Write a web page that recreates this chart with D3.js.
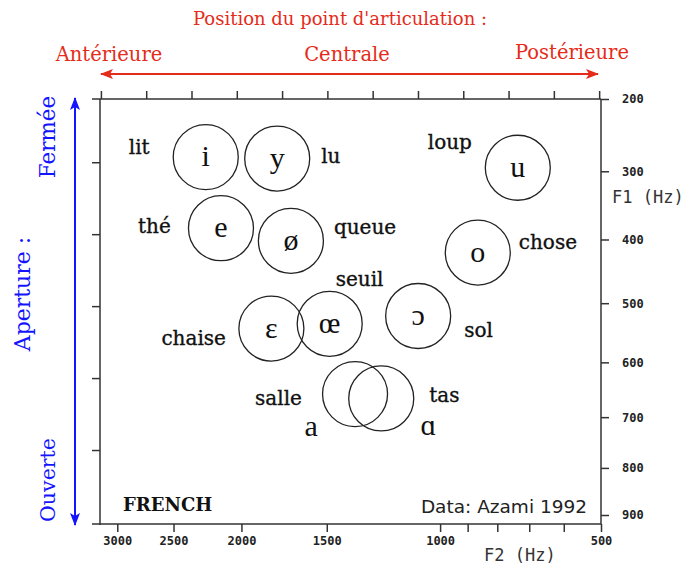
<!DOCTYPE html>
<html>
<head>
<meta charset="utf-8">
<script src="https://cdn.jsdelivr.net/npm/d3@7"></script>
<style>
  body { margin: 0; background: #fff; }
  svg { display: block; }
</style>
</head>
<body>
<svg id="chart"></svg>
<script>
// French oral vowels, F1/F2 in Hz (Azami 1992)
const vowels = ['i', 'y', 'e', 'ø', 'u', 'o', 'ɛ', 'œ', 'ɔ', 'a', 'ɑ'];
const words = ['lit', 'lu', 'thé', 'queue', 'loup', 'chose', 'chaise', 'seuil', 'sol', 'salle', 'tas'];
const f1 = [280, 282, 383, 402, 295, 420, 542, 534, 521, 657, 665];
const f2 = [2250, 1775, 2140, 1695, 735, 865, 1810, 1485, 1085, 1360, 1240];

const f2Ticks = [3000, 2500, 2000, 1500, 1000, 900, 800, 700, 600, 500];
const f2TickLabels = ['3000', '2500', '2000', '1500', '1000', '', '', '', '', '500'];
const f1Ticks = [200, 300, 400, 500, 600, 700, 800, 900];
const barkTicksTop = [5, 6, 7, 8, 9, 10, 11, 12, 13, 14, 15, 16];
const barkTicksLeft = [3, 4, 5, 6, 7];

// layout of the labels round each circle (px, from circle centre)
const wordOffset = {
  'lit': [-77, -3], 'lu': [44, 4], 'thé': [-83, 5], 'queue': [43, -7],
  'loup': [-90, -19], 'chose': [41, -4], 'chaise': [-110, 16], 'seuil': [6, -38],
  'sol': [46, 21], 'salle': [-100, 11], 'tas': [48, 4]
};
const symbolOffset = { 'a': [-44, 42], 'ɑ': [47, 37] };

const bark = f => 7 * Math.asinh(f / 650);

const pLeft = 100, pRight = 601, pTop = 99, pBottom = 524;
const x = d3.scaleLinear().domain([16.02, bark(500)]).range([pLeft, pRight]);
const y = d3.scaleLinear().domain([bark(200), bark(200) + (pBottom - pTop) / 71.95]).range([pTop, pBottom]);
const R = 32.5;

const red = '#e52b1a', blue = '#1414ff', ink = '#333';

const svg = d3.select('#chart').attr('width', 685).attr('height', 565);

const defs = svg.append('defs');
[['redHead', red], ['blueHead', blue]].forEach(([id, c]) => {
  defs.append('marker')
    .attr('id', id)
    .attr('viewBox', '0 -5 13 10')
    .attr('refX', 12).attr('refY', 0)
    .attr('markerWidth', 13).attr('markerHeight', 10)
    .attr('markerUnits', 'userSpaceOnUse')
    .attr('orient', 'auto-start-reverse')
    .append('path')
    .attr('d', 'M0,-5L13,0L0,5L3,0Z')
    .attr('fill', c);
});

// red header
svg.append('text').attr('x', 340).attr('y', 25).attr('text-anchor', 'middle')
  .style('font-family', 'DejaVu Serif').style('font-size', '18px').attr('fill', red)
  .text("Position du point d'articulation :");
[['Antérieure', 109, 61], ['Centrale', 347, 61], ['Postérieure', 572, 59]].forEach(([t, tx, ty]) => {
  svg.append('text').attr('x', tx).attr('y', ty).attr('text-anchor', 'middle')
    .style('font-family', 'DejaVu Serif').style('font-size', '19.5px').attr('fill', red)
    .text(t);
});
svg.append('line')
  .attr('x1', 101).attr('x2', 598).attr('y1', 74).attr('y2', 74)
  .attr('stroke', red).attr('stroke-width', 2)
  .attr('marker-start', 'url(#redHead)').attr('marker-end', 'url(#redHead)');

// blue side
svg.append('line')
  .attr('x1', 75).attr('x2', 75).attr('y1', 98).attr('y2', 525)
  .attr('stroke', blue).attr('stroke-width', 2)
  .attr('marker-start', 'url(#blueHead)').attr('marker-end', 'url(#blueHead)');
[['Fermée', 55, 137, '21.5px'], ['Aperture :', 30, 294, '22px'], ['Ouverte', 55, 480, '20.5px']].forEach(([t, tx, ty, fs]) => {
  svg.append('text')
    .attr('transform', `translate(${tx},${ty}) rotate(-90)`)
    .attr('text-anchor', 'middle')
    .style('font-family', 'DejaVu Serif').style('font-size', fs).attr('fill', blue)
    .text(t);
});

// frame
const frame = svg.append('g').attr('stroke', ink).attr('stroke-width', 1.5);
frame.append('line').attr('x1', pLeft - 8).attr('x2', pRight).attr('y1', pTop).attr('y2', pTop);
frame.append('line').attr('x1', pLeft - 8).attr('x2', pRight).attr('y1', pBottom).attr('y2', pBottom);
frame.append('line').attr('x1', pLeft).attr('x2', pLeft).attr('y1', pTop).attr('y2', pBottom + 1);
frame.append('line').attr('x1', pRight).attr('x2', pRight).attr('y1', pTop).attr('y2', pBottom);

function plainAxis(g) {
  g.select('.domain').remove();
  g.selectAll('.tick line').attr('stroke', ink).attr('stroke-width', 1.5);
}

// bark ticks, top and left
svg.append('g').attr('transform', `translate(0,${pTop})`)
  .call(d3.axisTop(x).tickValues(barkTicksTop).tickSize(8).tickFormat(''))
  .call(plainAxis);
svg.append('g').attr('transform', `translate(${pLeft},0)`)
  .call(d3.axisLeft(y).tickValues(barkTicksLeft).tickSize(8).tickFormat(''))
  .call(plainAxis);

// Hz ticks, bottom and right
const gx = svg.append('g').attr('transform', `translate(0,${pBottom})`)
  .call(d3.axisBottom(x).tickValues(f2Ticks.map(bark)).tickSize(8).tickPadding(4)
    .tickFormat((d, i) => f2TickLabels[i]))
  .call(plainAxis);
const gy = svg.append('g').attr('transform', `translate(${pRight},0)`)
  .call(d3.axisRight(y).tickValues(f1Ticks.map(bark)).tickSize(8).tickPadding(13)
    .tickFormat((d, i) => f1Ticks[i]))
  .call(plainAxis);
[gx, gy].forEach(g => g.selectAll('text')
  .style('font-family', 'DejaVu Sans Mono').style('font-weight', 'bold')
  .style('font-size', '12px').attr('fill', '#222'));

svg.append('text').attr('x', 484).attr('y', 561)
  .style('font-family', 'DejaVu Sans Mono').style('font-size', '17px').attr('fill', ink)
  .text('F2 (Hz)');
svg.append('text').attr('x', 612).attr('y', 203)
  .style('font-family', 'DejaVu Sans Mono').style('font-size', '17px').attr('fill', ink)
  .text('F1 (Hz)');

svg.append('text').attr('x', 123).attr('y', 511)
  .style('font-family', 'DejaVu Serif').style('font-weight', 'bold').style('font-size', '18px')
  .attr('fill', '#111').text('FRENCH');
svg.append('text').attr('x', 587).attr('y', 513).attr('text-anchor', 'end')
  .style('font-family', 'DejaVu Sans').style('font-size', '18.5px').attr('fill', '#222')
  .text('Data: Azami 1992');

// vowels
const pts = vowels.map((v, i) => ({ v: v, w: words[i], cx: x(bark(f2[i])), cy: y(bark(f1[i])) }));
const g = svg.append('g').selectAll('g').data(pts).join('g')
  .attr('transform', d => `translate(${d.cx},${d.cy})`);

g.append('circle').attr('r', R)
  .attr('fill', 'none').attr('stroke', '#222').attr('stroke-width', 1.3);

g.append('text')
  .attr('x', d => (symbolOffset[d.v] || [0, 0])[0])
  .attr('y', d => (symbolOffset[d.v] || [0, 9])[1])
  .attr('text-anchor', 'middle')
  .style('font-family', 'Liberation Serif, DejaVu Serif').style('font-size', '30px').attr('fill', '#111')
  .text(d => d.v);

g.append('text')
  .attr('x', d => wordOffset[d.w][0])
  .attr('y', d => wordOffset[d.w][1])
  .style('font-family', 'DejaVu Serif').style('font-size', '20px')
  .attr('fill', '#111').attr('stroke', '#111').attr('stroke-width', 0.35)
  .text(d => d.w);
</script>
</body>
</html>
